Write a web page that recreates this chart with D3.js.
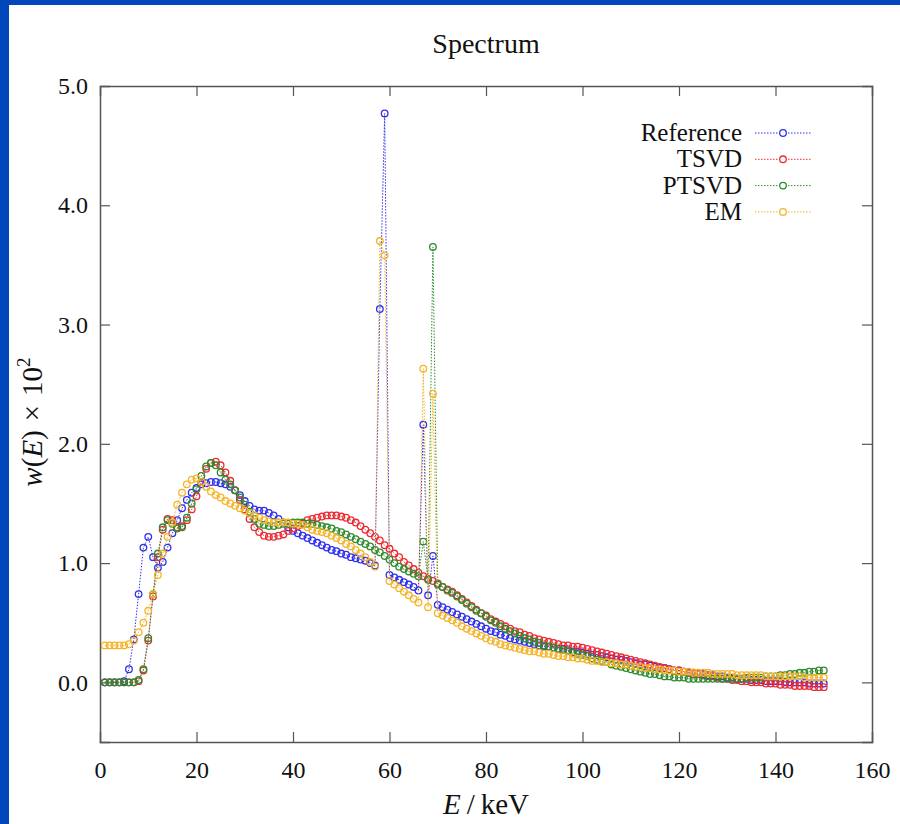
<!DOCTYPE html>
<html>
<head>
<meta charset="utf-8">
<script src="https://cdn.jsdelivr.net/npm/d3@7"></script>
<style>
  html, body { margin: 0; padding: 0; background: #0047bb; }
  svg { display: block; }
</style>
</head>
<body>
<svg id="chart" width="900" height="824"></svg>
<script>
// ---------- data ----------
const energies = d3.range(1, 151); // keV, 1..150

const referenceValues = [
  0.00,0.00,0.00,0.00,0.01,0.11,0.36,0.74,1.13,1.22,
  1.05,0.96,1.01,1.13,1.25,1.36,1.46,1.53,1.59,1.63,
  1.66,1.67,1.68,1.68,1.67,1.66,1.64,1.61,1.57,1.52,
  1.48,1.45,1.44,1.44,1.42,1.40,1.37,1.34,1.30,1.27,
  1.25,1.23,1.21,1.19,1.17,1.15,1.13,1.11,1.10,1.08,
  1.07,1.05,1.04,1.03,1.02,1.00,0.98,3.13,4.77,0.90,
  0.88,0.86,0.84,0.82,0.80,0.77,2.16,0.73,1.06,0.65,
  0.63,0.61,0.59,0.57,0.55,0.53,0.51,0.49,0.47,0.45,
  0.43,0.42,0.40,0.39,0.37,0.36,0.35,0.34,0.33,0.32,
  0.31,0.30,0.30,0.29,0.28,0.28,0.27,0.26,0.26,0.25,
  0.24,0.23,0.23,0.22,0.21,0.20,0.19,0.19,0.18,0.17,
  0.16,0.15,0.15,0.14,0.13,0.12,0.12,0.11,0.10,0.10,
  0.09,0.08,0.08,0.07,0.07,0.06,0.06,0.05,0.05,0.04,
  0.04,0.03,0.03,0.03,0.02,0.02,0.02,0.01,0.01,0.01,
  0.01,0.00,0.00,0.00,0.00,0.00,-0.01,-0.01,-0.01,-0.01
];

const tsvdValues = [
  0.00,0.00,0.00,0.00,0.00,0.00,0.00,0.01,0.10,0.35,
  0.72,1.05,1.28,1.37,1.36,1.30,1.31,1.36,1.45,1.56,
  1.68,1.79,1.84,1.85,1.82,1.76,1.69,1.61,1.53,1.45,
  1.37,1.30,1.26,1.23,1.22,1.22,1.23,1.24,1.27,1.29,
  1.31,1.33,1.36,1.37,1.38,1.39,1.40,1.40,1.40,1.39,
  1.38,1.36,1.34,1.31,1.28,1.25,1.22,1.19,1.15,1.12,
  1.08,1.05,1.01,0.98,0.95,0.92,0.89,0.87,0.85,0.83,
  0.80,0.78,0.76,0.73,0.70,0.67,0.64,0.61,0.58,0.56,
  0.53,0.51,0.49,0.47,0.45,0.43,0.42,0.40,0.39,0.37,
  0.36,0.35,0.34,0.33,0.32,0.31,0.31,0.30,0.30,0.29,
  0.28,0.27,0.26,0.25,0.24,0.23,0.22,0.21,0.20,0.19,
  0.18,0.17,0.16,0.15,0.14,0.13,0.12,0.11,0.10,0.10,
  0.09,0.08,0.07,0.07,0.06,0.05,0.05,0.04,0.03,0.03,
  0.02,0.02,0.01,0.01,0.00,0.00,0.00,-0.01,-0.01,-0.01,
  -0.02,-0.02,-0.02,-0.03,-0.03,-0.03,-0.03,-0.04,-0.04,-0.04
];

const ptsvdValues = [
  0.00,0.00,0.00,0.00,0.00,0.00,0.00,0.02,0.11,0.37,
  0.74,1.08,1.30,1.36,1.33,1.29,1.30,1.38,1.50,1.62,
  1.73,1.81,1.84,1.82,1.76,1.70,1.66,1.61,1.55,1.49,
  1.43,1.37,1.33,1.32,1.31,1.31,1.32,1.33,1.33,1.34,
  1.34,1.34,1.33,1.33,1.32,1.31,1.30,1.29,1.27,1.26,
  1.24,1.22,1.20,1.18,1.16,1.14,1.11,1.09,1.06,1.03,
  1.00,0.97,0.95,0.93,0.91,0.89,1.18,0.86,3.65,0.82,
  0.80,0.77,0.75,0.72,0.69,0.66,0.63,0.60,0.58,0.55,
  0.52,0.50,0.47,0.45,0.43,0.41,0.39,0.37,0.36,0.34,
  0.33,0.31,0.30,0.29,0.28,0.27,0.26,0.25,0.24,0.23,
  0.22,0.20,0.19,0.18,0.17,0.15,0.14,0.13,0.12,0.11,
  0.10,0.09,0.08,0.07,0.07,0.06,0.05,0.05,0.04,0.04,
  0.04,0.03,0.03,0.03,0.03,0.03,0.03,0.03,0.03,0.03,
  0.03,0.03,0.03,0.04,0.04,0.04,0.04,0.05,0.05,0.05,
  0.06,0.06,0.07,0.07,0.08,0.08,0.09,0.09,0.10,0.10
];

const emValues = [
  0.31,0.31,0.31,0.31,0.31,0.32,0.35,0.42,0.50,0.60,
  0.74,0.90,1.08,1.22,1.34,1.49,1.59,1.66,1.70,1.71,
  1.68,1.64,1.60,1.57,1.55,1.52,1.50,1.48,1.46,1.44,
  1.42,1.40,1.38,1.36,1.35,1.34,1.34,1.34,1.34,1.33,
  1.33,1.32,1.30,1.28,1.27,1.26,1.25,1.23,1.21,1.19,
  1.16,1.14,1.11,1.08,1.05,1.01,0.97,3.70,3.58,0.85,
  0.82,0.79,0.76,0.73,0.70,0.67,2.63,0.63,2.42,0.58,
  0.56,0.54,0.52,0.50,0.47,0.45,0.43,0.41,0.39,0.37,
  0.35,0.34,0.32,0.31,0.30,0.29,0.28,0.27,0.26,0.26,
  0.25,0.24,0.24,0.23,0.22,0.22,0.21,0.21,0.20,0.20,
  0.19,0.18,0.18,0.17,0.17,0.16,0.16,0.15,0.15,0.14,
  0.13,0.13,0.12,0.12,0.11,0.11,0.10,0.10,0.10,0.09,
  0.09,0.09,0.08,0.08,0.08,0.08,0.07,0.07,0.07,0.07,
  0.07,0.06,0.06,0.06,0.06,0.06,0.06,0.05,0.05,0.05,
  0.05,0.05,0.05,0.05,0.05,0.04,0.04,0.04,0.04,0.04
];

const seriesNames = ["Reference", "TSVD", "PTSVD", "EM"];
const seriesColors = ["#2f2ff0", "#ee2a32", "#2e8b2e", "#f5b428"];
const xTicks = [0, 20, 40, 60, 80, 100, 120, 140, 160];
const yTicks = [0.0, 1.0, 2.0, 3.0, 4.0, 5.0];

// ---------- layout ----------
const svg = d3.select("#chart");
const W = 900, H = 824;
const margin = { left: 100, right: 28, top: 86, bottom: 82 };

svg.append("rect").attr("x", 9).attr("y", 5).attr("width", W - 9).attr("height", H - 5).attr("fill", "#ffffff");

const x = d3.scaleLinear().domain([0, 160]).range([margin.left, W - margin.right]);
const y = d3.scaleLinear().domain([-0.5, 5.0]).range([H - margin.bottom, margin.top]);

const serif = "'Liberation Serif', 'DejaVu Serif', serif";
const axisColor = "#555";

// title
svg.append("text")
  .attr("x", (x(0) + x(160)) / 2).attr("y", 53)
  .attr("text-anchor", "middle")
  .attr("font-family", serif).attr("font-size", 28).attr("fill", "#111")
  .text("Spectrum");

// axes (ticks pointing inward on all sides)
const tickLen = 10;
const gx = svg.append("g").attr("transform", `translate(0,${y(-0.5)})`)
  .call(d3.axisBottom(x).tickValues(xTicks).tickSize(-tickLen).tickPadding(19).tickFormat(d3.format("d")));
const gxTop = svg.append("g").attr("transform", `translate(0,${y(5.0)})`)
  .call(d3.axisTop(x).tickValues(xTicks).tickSize(-tickLen).tickFormat(""));
const gy = svg.append("g").attr("transform", `translate(${x(0)},0)`)
  .call(d3.axisLeft(y).tickValues(yTicks).tickSize(-tickLen).tickPadding(12).tickFormat(d3.format(".1f")));
const gyRight = svg.append("g").attr("transform", `translate(${x(160)},0)`)
  .call(d3.axisRight(y).tickValues(yTicks).tickSize(-tickLen).tickFormat(""));

[gx, gxTop, gy, gyRight].forEach(g => {
  g.select(".domain").attr("stroke", axisColor).attr("stroke-width", 1.5);
  g.selectAll(".tick line").attr("stroke", axisColor).attr("stroke-width", 1.2);
  g.selectAll(".tick text").attr("font-family", serif).attr("font-size", 24).attr("fill", "#111");
});
gx.selectAll(".tick").filter(d => d === 0 || d === 160).select("line").remove();
gxTop.selectAll(".tick").filter(d => d === 0 || d === 160).select("line").remove();
gy.selectAll(".tick").filter(d => d === 5.0).select("line").remove();
gyRight.selectAll(".tick").filter(d => d === 5.0).select("line").remove();

// axis labels
const xl = svg.append("text")
  .attr("x", (x(0) + x(160)) / 2).attr("y", 814)
  .attr("text-anchor", "middle")
  .attr("font-family", serif).attr("font-size", 29).attr("fill", "#111");
xl.append("tspan").attr("font-style", "italic").text("E");
xl.append("tspan").attr("dx", 6).text("/");
xl.append("tspan").attr("dx", 6).text("keV");

const yl = svg.append("text")
  .attr("transform", `translate(42,${(y(5) + y(-0.5)) / 2 + 8}) rotate(-90)`)
  .attr("text-anchor", "middle")
  .attr("font-family", serif).attr("font-size", 29).attr("fill", "#111");
yl.append("tspan").attr("font-style", "italic").text("w");
yl.append("tspan").text("(");
yl.append("tspan").attr("font-style", "italic").text("E");
yl.append("tspan").text(")");
yl.append("tspan").attr("dx", 9).text("×");
yl.append("tspan").attr("dx", 9).text("10");
yl.append("tspan").attr("font-size", 19).attr("dy", -12).text("2");

// series
const allSeries = [referenceValues, tsvdValues, ptsvdValues, emValues];
const line = d3.line().x((d, i) => x(energies[i])).y(d => y(d));

allSeries.forEach((vals, k) => {
  const g = svg.append("g");
  g.append("path")
    .datum(vals)
    .attr("d", line)
    .attr("fill", "none")
    .attr("stroke", seriesColors[k])
    .attr("stroke-width", 1)
    .attr("stroke-dasharray", "1.5,1.5");
  g.selectAll("circle").data(vals).join("circle")
    .attr("cx", (d, i) => x(energies[i]))
    .attr("cy", d => y(d))
    .attr("r", 3.3)
    .attr("fill", "none")
    .attr("stroke", seriesColors[k])
    .attr("stroke-width", 1.3);
});

// legend
const legX = 742, legY0 = 133, legDy = 26.3;
seriesNames.forEach((name, k) => {
  const yy = legY0 + k * legDy;
  svg.append("text")
    .attr("x", legX).attr("y", yy + 8)
    .attr("text-anchor", "end")
    .attr("font-family", serif).attr("font-size", 25).attr("fill", "#111")
    .text(name);
  svg.append("line")
    .attr("x1", 755).attr("x2", 812).attr("y1", yy).attr("y2", yy)
    .attr("stroke", seriesColors[k]).attr("stroke-width", 1)
    .attr("stroke-dasharray", "1.5,1.5");
  svg.append("circle")
    .attr("cx", 783).attr("cy", yy).attr("r", 3.3)
    .attr("fill", "white").attr("stroke", seriesColors[k]).attr("stroke-width", 1.3);
});
</script>
</body>
</html>
